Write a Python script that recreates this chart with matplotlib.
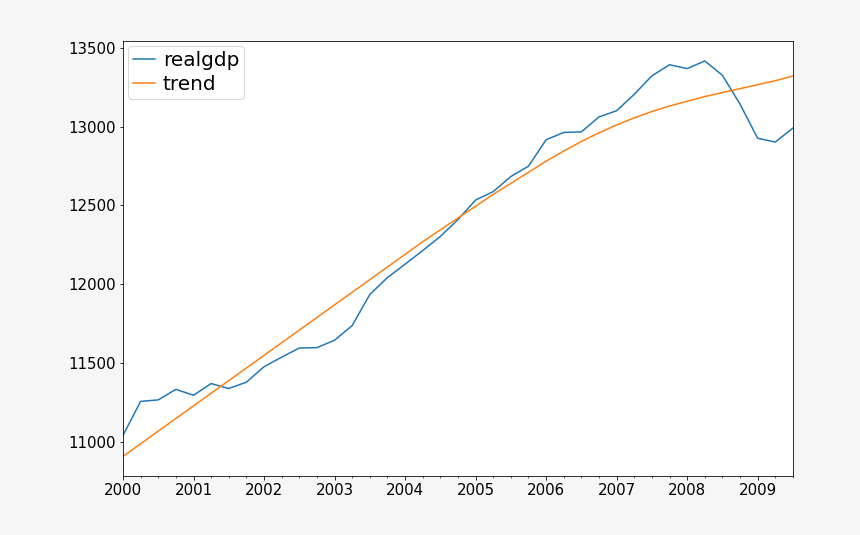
import matplotlib
matplotlib.use("Agg")
import matplotlib.pyplot as plt
from matplotlib.ticker import MultipleLocator, FixedLocator
import numpy as np

# quarterly real GDP, 2000Q1 - 2009Q3
realgdp = [11043.0, 11258.5, 11267.9, 11334.5, 11297.2, 11371.3, 11340.1, 11380.1,
           11477.9, 11538.8, 11596.4, 11598.8, 11645.8, 11738.7, 11935.5, 12042.8,
           12127.6, 12213.8, 12303.5, 12410.3, 12534.1, 12587.5, 12683.2, 12748.7,
           12915.9, 12962.5, 12965.9, 13060.7, 13099.9, 13204.0, 13321.1, 13391.2,
           13366.9, 13415.3, 13324.6, 13141.9, 12925.4, 12901.5, 12990.3]
trend = [10910, 10990, 11070, 11150, 11230, 11310, 11390, 11470,
         11550, 11630, 11710, 11790, 11870, 11950, 12030, 12110,
         12190, 12270, 12345, 12420, 12495, 12570, 12640, 12710,
         12780, 12845, 12905, 12960, 13010, 13055, 13095, 13130,
         13160, 13190, 13215, 13240, 13265, 13290, 13320]
years = list(range(2000, 2010))

x = 2000 + np.arange(len(realgdp)) * 0.25

# drawn at 72 dpi so default point sizes map 1:1 to pixels
fig = plt.figure(figsize=(860 / 72, 535 / 72), dpi=72, facecolor='#f6f6f6')
ax = fig.add_axes([0.143, 0.110, 0.779, 0.813])
ax.plot(x, realgdp, color='#1f77b4', label='realgdp')
ax.plot(x, trend, color='#ff7f0e', label='trend')

ax.set_xlim(x[0], x[-1])
ax.xaxis.set_major_locator(FixedLocator(years))
ax.set_xticklabels([str(y) for y in years])
ax.xaxis.set_minor_locator(MultipleLocator(0.25))
ax.tick_params(axis='both', labelsize=15)
ax.legend(loc='upper left', fontsize=20, handlelength=1.1, borderpad=0.25,
          borderaxespad=0.25, handletextpad=0.4, labelspacing=0.25)

fig.savefig('out.png', dpi=72, facecolor=fig.get_facecolor())
